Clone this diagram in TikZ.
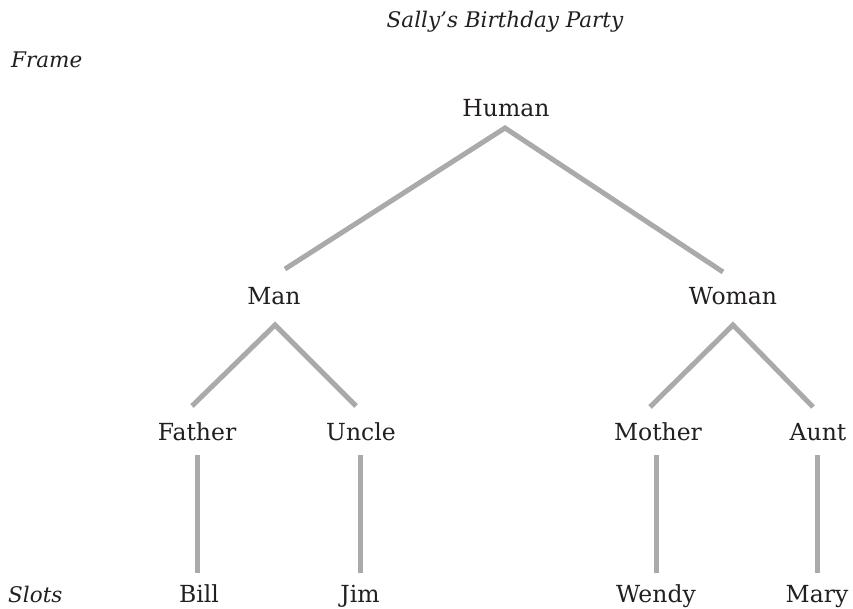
\documentclass[tikz,border=0pt]{standalone}
\usepackage{fontspec}
\setmainfont{DejaVu Serif}
\usetikzlibrary{positioning}
\definecolor{branchgray}{RGB}{170,170,172}
\definecolor{labelink}{RGB}{35,31,32}
\tikzset{
  frame label/.style={font=\fontsize{23.5}{28}\selectfont,text=labelink,anchor=base,inner sep=0pt},
  frame note/.style={font=\fontsize{21.5}{26}\selectfont\itshape,text=labelink,anchor=base,inner sep=0pt},
  frame branch/.style={branchgray,line width=5pt}
}
\begin{document}
\begin{tikzpicture}[x=1pt,y=-1pt]
  \useasboundingbox (0,0) rectangle (853,609);
  % headings
  \node[frame note] (title) at (505,28) {Sally’s Birthday Party};
  \node[frame note,anchor=base west] (framelbl) at (11,68) {Frame};
  \node[frame note,anchor=base west] (slotslbl) at (8,602) {Slots};
  % frame nodes
  \node[frame label] (human) at (506,117) {Human};
  \node[frame label] (man) at (274,305) {Man};
  \node[frame label] (woman) at (733,305) {Woman};
  \node[frame label] (father) at (197,440) {Father};
  \node[frame label] (uncle) at (361,440) {Uncle};
  \node[frame label] (mother) at (658,440) {Mother};
  \node[frame label] (aunt) at (818,440) {Aunt};
  % slot fillers
  \node[frame label] (bill) at (199,602) {Bill};
  \node[frame label] (jim) at (360,602) {Jim};
  \node[frame label] (wendy) at (656,602) {Wendy};
  \node[frame label] (mary) at (817,602) {Mary};
  % branches
  \draw[frame branch] ([xshift=11pt,yshift=36pt]man.base) -- ([xshift=-1pt,yshift=-11pt]human.base)
    -- ([xshift=-10pt,yshift=33pt]woman.base);
  \draw[frame branch] ([xshift=-5pt,yshift=34pt]father.base) -- ([xshift=1pt,yshift=-20pt]man.base)
    -- ([xshift=-5pt,yshift=34pt]uncle.base);
  \draw[frame branch] ([xshift=-8pt,yshift=33pt]mother.base) -- ([yshift=-20pt]woman.base)
    -- ([xshift=-5pt,yshift=33pt]aunt.base);
  \draw[frame branch] ([yshift=-15pt]father.base) -- ([xshift=-2pt,yshift=29pt]bill.base);
  \draw[frame branch] ([xshift=-1pt,yshift=-15pt]uncle.base) -- ([yshift=29pt]jim.base);
  \draw[frame branch] ([xshift=-2pt,yshift=-15pt]mother.base) -- ([yshift=29pt]wendy.base);
  \draw[frame branch] ([xshift=-1pt,yshift=-15pt]aunt.base) -- ([yshift=29pt]mary.base);
\end{tikzpicture}
\end{document}
